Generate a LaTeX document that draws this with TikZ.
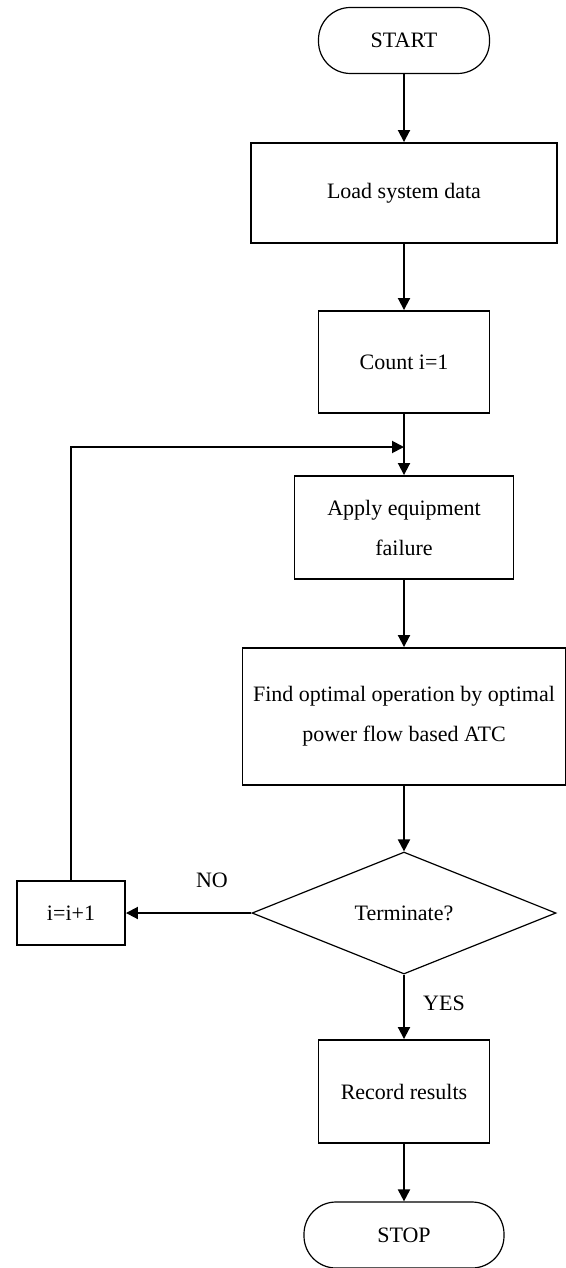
\documentclass[tikz,border=0pt]{standalone}
\usepackage{fontspec}
\setmainfont{Liberation Serif}
\usetikzlibrary{shapes.geometric,arrows.meta}
\begin{document}
\begin{tikzpicture}[x=1pt,y=1pt,
  every node/.style={font=\fontsize{22}{40}\selectfont, inner sep=0pt, align=center},
  blk/.style={draw, line width=1.9pt, minimum width=#1},
  term/.style={draw, line width=1.2pt, rounded corners=32pt, minimum width=#1, minimum height=66pt},
  dec/.style={draw, diamond, line width=1.2pt, minimum width=304pt, minimum height=122pt},
  flow/.style={line width=1.9pt, -{Triangle[length=12pt,width=12pt]}}]
\useasboundingbox (0,0) rectangle (565,-1268);
\node[term=171pt] (start) at (404,-40.5) {START};
\node[blk=306pt, minimum height=100pt] (load) at (404,-193) {Load system data};
\node[blk=171pt, minimum height=102pt] (count) at (404,-362) {Count i=1};
\node[blk=219pt, minimum height=103pt] (apply) at (404,-527.5) {Apply equipment\\failure};
\node[blk=323pt, minimum height=137pt] (find) at (404,-716.5) {Find optimal operation by optimal\\power flow based ATC};
\node[dec] (stopq) at (404,-913) {Terminate?};
\node[blk=108pt, minimum height=64pt] (incr) at (71,-913) {i=i+1};
\node[blk=171pt, minimum height=103pt] (rec) at (404,-1091.5) {Record results};
\node[term=200pt] (stop) at (404,-1235) {STOP};
\node (no) at (212,-880) {NO};
\node (yes) at (444,-1003) {YES};
\coordinate (join) at (404,-447);
\draw[flow] (start) -- (load);
\draw[flow] (load) -- (count);
\draw[flow] (count) -- (apply);
\draw[flow] (apply) -- (find);
\draw[flow] (find) -- (stopq);
\draw[flow] (stopq) -- (incr);
\draw[flow] (incr.north) |- (join);
\draw[flow] (stopq) -- (rec);
\draw[flow] (rec) -- (stop);
\end{tikzpicture}
\end{document}
